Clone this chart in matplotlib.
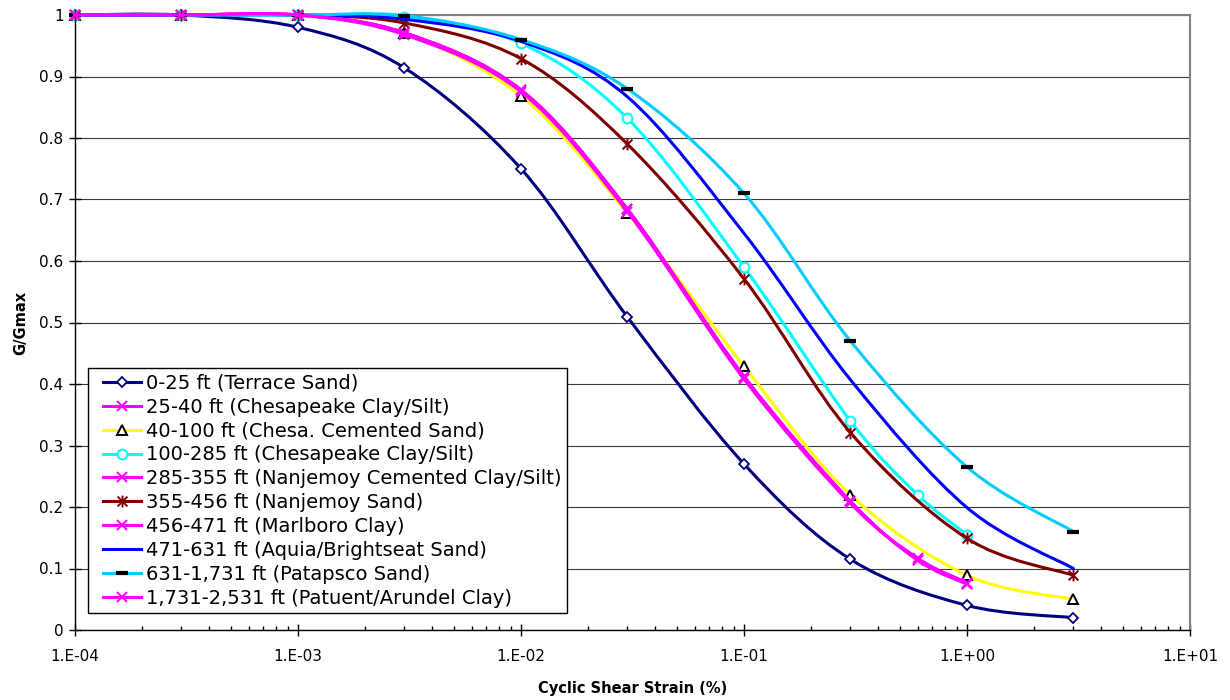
import numpy as np
import matplotlib
matplotlib.use("Agg")
import matplotlib.pyplot as plt
from matplotlib.path import Path
from matplotlib.patches import PathPatch
from matplotlib.lines import Line2D
from matplotlib.legend_handler import HandlerLine2D
from matplotlib.ticker import LogLocator, FixedLocator, NullFormatter

plt.rcParams['font.family'] = ['DejaVu Sans']

# cyclic shear strain (%) of the test points
strain = [1e-4, 3e-4, 1e-3, 3e-3, 1e-2, 3e-2, 1e-1, 3e-1, 1.0, 3.0]
strain_short = [1e-4, 3e-4, 1e-3, 3e-3, 1e-2, 3e-2, 1e-1, 3e-1, 0.6, 1.0]

# G/Gmax for each layer
terrace_sand = [1.0, 1.0, 0.98, 0.914, 0.75, 0.509, 0.27, 0.115, 0.04, 0.02]
chesapeake_clay_25 = [1.0, 1.0, 1.0, 0.971, 0.878, 0.684, 0.412, 0.209, 0.114, 0.075]
chesa_cemented_sand = [1.0, 1.0, 1.0, 0.97, 0.868, 0.678, 0.429, 0.22, 0.089, 0.05]
chesapeake_clay_100 = [1.0, 1.0, 1.0, 0.997, 0.954, 0.832, 0.59, 0.34, 0.22, 0.155]
nanjemoy_cemented = [1.0, 1.0, 1.0, 0.968, 0.875, 0.68, 0.408, 0.206, 0.117, 0.077]
nanjemoy_sand = [1.0, 1.0, 1.0, 0.987, 0.929, 0.79, 0.571, 0.321, 0.149, 0.089]
marlboro_clay = [1.0, 1.0, 1.0, 0.971, 0.878, 0.684, 0.412, 0.209, 0.114, 0.075]
aquia_sand = [1.0, 1.0, 1.0, 0.993, 0.957, 0.867, 0.645, 0.407, 0.199, 0.10]
patapsco_sand = [1.0, 1.0, 1.0, 0.999, 0.96, 0.88, 0.71, 0.47, 0.265, 0.16]
patuxent_clay = [1.0, 1.0, 1.0, 0.971, 0.878, 0.684, 0.412, 0.209, 0.114, 0.075]

labels = ["0-25 ft (Terrace Sand)",
          "25-40 ft (Chesapeake Clay/Silt)",
          "40-100 ft (Chesa. Cemented Sand)",
          "100-285 ft (Chesapeake Clay/Silt)",
          "285-355 ft (Nanjemoy Cemented Clay/Silt)",
          "355-456 ft (Nanjemoy Sand)",
          "456-471 ft (Marlboro Clay)",
          "471-631 ft (Aquia/Brightseat Sand)",
          "631-1,731 ft (Patapsco Sand)",
          "1,731-2,531 ft (Patuent/Arundel Clay)"]

xtick_labels = ["1.E-04", "1.E-03", "1.E-02", "1.E-01", "1.E+00", "1.E+01"]

# asterisk-like marker (x with a vertical bar)
star = Path([(-1, -1), (1, 1), (-1, 1), (1, -1), (0, -1.2), (0, 1.2)],
            [Path.MOVETO, Path.LINETO, Path.MOVETO, Path.LINETO, Path.MOVETO, Path.LINETO])

series = [
    (strain, terrace_sand, dict(color="#000080", marker="D", ms=4.6, mfc="white", mec="#000080", mew=1.3)),
    (strain_short, chesapeake_clay_25, dict(color="#FF00FF", marker="x", ms=7.5, mfc="none", mec="#FF00FF", mew=1.4)),
    (strain, chesa_cemented_sand, dict(color="#FFFF00", marker="^", ms=6.5, mfc="white", mec="black", mew=1.4)),
    (strain_short, chesapeake_clay_100, dict(color="#00FFFF", marker="o", ms=7, mfc="white", mec="#00FFFF", mew=1.5)),
    (strain_short, nanjemoy_cemented, dict(color="#FF00FF", marker="x", ms=7.5, mfc="none", mec="#FF00FF", mew=1.4)),
    (strain, nanjemoy_sand, dict(color="#800000", marker=star, ms=8.5, mfc="none", mec="#800000", mew=1.4)),
    (strain_short, marlboro_clay, dict(color="#FF00FF", marker="x", ms=7.5, mfc="none", mec="#FF00FF", mew=1.4)),
    (strain, aquia_sand, dict(color="#0000FF", marker="None", ms=0, mfc="none", mec="#0000FF", mew=0)),
    (strain, patapsco_sand, dict(color="#00CCFF", marker="_", ms=8.5, mfc="black", mec="black", mew=3)),
    (strain_short, patuxent_clay, dict(color="#FF00FF", marker="x", ms=7.5, mfc="none", mec="#FF00FF", mew=1.4)),
]

LW = 2.2


def smooth_path(xs, ys):
    # Catmull-Rom style bezier through the points, built in log-x space
    pts = np.column_stack([np.log10(xs), ys])
    n = len(pts)
    verts = [pts[0]]
    codes = [Path.MOVETO]
    for i in range(n - 1):
        p0 = pts[max(i - 1, 0)]
        p1 = pts[i]
        p2 = pts[i + 1]
        p3 = pts[min(i + 2, n - 1)]
        verts += [p1 + (p2 - p0) / 6, p2 - (p3 - p1) / 6, p2]
        codes += [Path.CURVE4] * 3
    verts = np.array(verts)
    verts[:, 0] = 10 ** verts[:, 0]
    return Path(verts, codes)


fig = plt.figure(figsize=(12.3, 7), dpi=100)
ax = fig.add_axes([75 / 1230, 70 / 700, 1115 / 1230, 615 / 700])
ax.set_xscale("log")
ax.set_xlim(1e-4, 10)
ax.set_ylim(0, 1)

handles = []
for i, (xs, ys, st) in enumerate(series):
    patch = PathPatch(smooth_path(xs, ys), facecolor="none", edgecolor=st["color"],
                      lw=LW, zorder=3 + i * 0.1, clip_on=False, joinstyle="round", capstyle="round")
    ax.add_patch(patch)
    if st["marker"] != "None":
        ax.plot(xs, ys, ls="none", marker=st["marker"], ms=st["ms"], mfc=st["mfc"],
                mec=st["mec"], mew=st["mew"], zorder=3.05 + i * 0.1, clip_on=False)
    handles.append(Line2D([], [], color=st["color"], lw=LW, marker=st["marker"], ms=st["ms"],
                          mfc=st["mfc"], mec=st["mec"], mew=st["mew"]))

# axes styling
ax.set_yticks(np.arange(0, 1.01, 0.1))
ax.set_yticklabels(["0", "0.1", "0.2", "0.3", "0.4", "0.5", "0.6", "0.7", "0.8", "0.9", "1"])
ax.xaxis.set_major_locator(FixedLocator([1e-4, 1e-3, 1e-2, 1e-1, 1, 10]))
ax.set_xticklabels(xtick_labels)
ax.xaxis.set_minor_locator(LogLocator(base=10, subs=np.arange(2, 10), numticks=20))
ax.xaxis.set_minor_formatter(NullFormatter())

ax.tick_params(axis="y", which="major", direction="inout", length=8.5, width=1, pad=4, labelsize=11)
ax.tick_params(axis="x", which="major", direction="inout", length=8, width=1, pad=10, labelsize=11)
ax.tick_params(axis="x", which="minor", direction="in", length=3, width=1)

ax.yaxis.grid(True, color="#3a3a3a", lw=0.8)
ax.set_axisbelow(True)
for side in ["left", "bottom"]:
    ax.spines[side].set_color("black")
    ax.spines[side].set_linewidth(1)
for side in ["top", "right"]:
    ax.spines[side].set_color("#808080")
    ax.spines[side].set_linewidth(1.5)

ax.set_xlabel("Cyclic Shear Strain (%)", fontsize=10.5, fontweight="bold")
ax.set_ylabel("G/Gmax", fontsize=10.5, fontweight="bold")
ax.xaxis.set_label_coords(0.5, -0.083)
ax.yaxis.set_label_coords(-0.042, 0.5)

leg = ax.legend(handles, labels, loc="upper left",
                bbox_to_anchor=((88 - 75) / 1115, (630 - 368) / 615), bbox_transform=ax.transAxes,
                borderaxespad=0, fontsize=14, frameon=True, fancybox=False, shadow=False,
                framealpha=1, edgecolor="black", borderpad=0.3, labelspacing=0.25,
                handlelength=2.4, handletextpad=0.26, numpoints=1,
                handler_map={Line2D: HandlerLine2D(xpad=0.47)})
leg.get_frame().set_linewidth(1)
leg.set_zorder(10)

fig.savefig("out.png", dpi=100, facecolor="white")
